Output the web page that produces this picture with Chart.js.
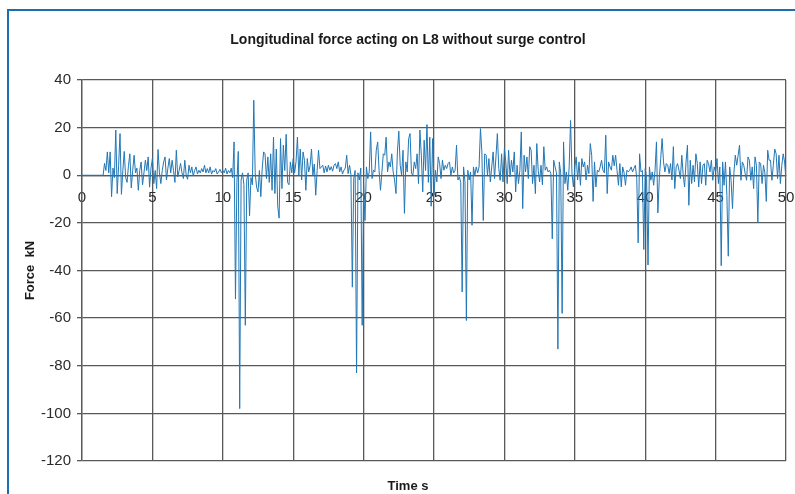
<!DOCTYPE html>
<html>
<head>
<meta charset="utf-8">
<script src="https://cdn.jsdelivr.net/npm/chart.js@4/dist/chart.umd.min.js"></script>
<style>
  html, body { margin: 0; padding: 0; background: #ffffff; }
  #wrap { width: 795px; height: 494px; position: relative; }
</style>
</head>
<body>
<div id="wrap"><canvas id="c" width="795" height="494"></canvas></div>
<script>
const chartTitle = 'Longitudinal force acting on L8 without surge control';
const xTitle = 'Time s';
const yTitle = 'Force  kN';

// axis ranges and tick spacing
const timeRange = [0, 50];
const timeTickStep = 5;
const forceRange = [-120, 40];
const forceTickStep = 20;

// sampling interval of the force record, seconds
const timeStep = 0.1;

// longitudinal force on L8, kN, one row per second (10 samples each)
const force = [
  0, 0, 0, 0, 0, 0, 0, 0, 0, 0,
  0, 0, 0, 0, 0, 0, 5, 2, 9.8, 1,
  9.8, -9, 3, -1, 19, -7.7, 4, 17.5, -8, 2,
  10, -1, -3, 4, 9, -5.3, 2, 8.4, 1, 3,
  -6.3, 2, 5.6, -4, 1, 6.3, 2, 7.7, -5, 3,
  7, -3.5, 2, -5.6, 10.8, 1, -3.5, 2, 5.6, 7.7,
  -2, 3, 7, 1, 6.3, 2, -3, 10.5, -0.7, 2,
  5, 1, -1.4, 6.3, 0, -1.7, 4.2, 1, 3.5, -0.3,
  2, 3.5, 0.5, 2.1, 1, 2.8, 1.4, 4.2, 1, 2.8,
  1, 3.5, 0.5, 2, 1.4, 2.8, 0.5, 1.4, 2.5, 1,
  2, 1, 3, 0.5, 2, 1, 3, -1, 14, -52,
  -3, 10, -98, -2, 1, -4, -63, -2, 1, -17,
  -1, -4, 31.5, 1, -5, -7, 2, -9, 3, 9.8,
  9, -1.4, 7.7, -3, 9, -6.3, 16, -7.7, 11, -13,
  -18, 15.4, -5.6, 12.6, 2, 17.2, -3, -4, 5.6, 1,
  7, 1, 5.6, 16, 0, 11, -2, 9.8, 6.3, -6.3,
  7, 1.4, 4, 11, 0, 4.7, -8.4, 2, 10.5, 2.8,
  3.5, 4.2, 1, 3.9, 1.4, 4.2, 2.1, 3.6, 1.7, 4.2,
  4.9, 2.8, 5.6, 1.4, 3.5, 0.5, 2.1, 3, 8.4, 0.7,
  4.2, 0.3, -47, -1.4, 2, -83, 1, -2, 3, -63,
  -4, -19, 3.5, -1.4, 1.4, 18.2, -1.4, 2.1, 1.4, 10.5,
  14, 2, -6.3, 1.4, 9, 8.4, 16, 1.4, 5.6, 3.5,
  9, 1.4, -2, -7.7, 9.8, 18.5, 4.2, 0, 10.5, -16,
  5.6, 1.4, 15.4, 17.5, 0.7, 0, 5.6, 2.8, 9, -3.5,
  19, 8.4, -7, 14.7, 2, 21.3, -3, 16, -13, 15.4,
  -8.4, 2.1, -2.8, 7.7, 4.9, -1.4, 6.3, 2.1, 4.2, 2.8,
  4.9, 5.6, 0, 3.5, 1, 2.1, 12.6, -2, -0.7, -3,
  -49, 3.5, -2.8, -61, 2.1, -2, 1.4, -21, 3.5, 0,
  3.5, 1, 3.5, 19.6, 9.8, -19, 9, 8.4, 0, 7,
  -2.8, 3.5, 9.8, -1.4, 7.7, 17.5, 2.8, -2.1, 9, -2.8,
  11.2, 5.6, -3.5, 10.5, -0.7, 6.3, 1.4, 9.8, -7, 4.2,
  -3.5, 2.1, 18.2, -14, 8.4, 1.4, 7.7, -1.4, 12, 10.5,
  -3.5, 4.2, -7.7, 13.3, 2.1, -2.8, 4.2, -4, 12, 2.1,
  3.5, 1.4, 2.1, 0.7, -26.7, 6.3, 3.5, 1, -73, 5.6,
  1, -58, 14, -3.5, 1.4, -6.3, 3.5, 23, 0.7, -4.9,
  3.5, 7.7, -2, 5.6, -4.2, 7, 3.5, 5.6, -2, 4.2,
  0.7, 13.3, 8.4, -11, 5.6, -4.9, 2.1, 1.4, 3.5, 6.3,
  2.1, 1, 16.8, -7.7, 5.6, 3.5, 2.1, 8.4, 4, 8.4,
  2, -4.2, 4.9, -4.9, 3.5, 1, -4.2, 2.1, 1.4, 2.1,
  3.5, 1.4, 2.8, 4.2, -1.4, -28.4, 9, 1.4, 2, -31.2,
  2.8, -1.4, -37.7, 3.5, -2.1, 1.4, -4.2, 2.1, 14, -15.8,
  -1.4, 7, 15.4, 5.6, 1.4, 4.9, 4.2, 0.7, 4.9, -2,
  12, -5.6, 3.5, 4.9, 2.1, -1.4, 8.4, 0, -4.9, 5.6,
  12.6, -12.6, 6.3, -3.5, 4.2, -2.8, 9, 4.9, -4.9, 5.6,
  -3.5, 4.2, 4.9, -4.2, 6.3, 4.9, 1.4, 6.3, -2.1, 3.5,
  1.4, 7, -3.5, 3.5, -38, 5.6, -4.2, 5.6, -8.4, -34,
  3.5, -2.1, -14, 1, 8.4, 4.2, 8.4, 12.6, -2.1, 5.6,
  4.2, 0.7, -2.1, 7.7, 6.3, -2.1, 3.5, -5.6, 7.7, 4.2,
  -20, 5.6, 4.9, -3.5, 4.2, 1, -11, 10.5, 6.3, 6.3,
  -2.1, 4.2, 11, 9, -1.4, 8.4, -3.5, 4, 9, 5.6,
  -2
];

const points = force.map((v, i) => ({ x: +(i * timeStep).toFixed(2), y: v }));

const GRID = '#595959';
const TEXT = '#2b2b2b';
const tickFont = { family: "'Liberation Sans', Arial, sans-serif", size: 15 };
const titleFont = "bold 14px 'Liberation Sans', Arial, sans-serif";
const axisTitleFont = { family: "'Liberation Sans', Arial, sans-serif", size: 13, weight: 'bold' };

// blue frame around the figure plus the chart and time-axis captions
const decorations = {
  id: 'decorations',
  beforeDraw(chart) {
    const ctx = chart.ctx;
    ctx.save();
    ctx.fillStyle = '#ffffff';
    ctx.fillRect(0, 0, chart.width, chart.height);
    ctx.fillStyle = '#1d6db5';
    ctx.fillRect(7, 9, 2, chart.height - 9);
    ctx.fillRect(7, 9, chart.width - 7, 2);
    ctx.restore();
  },
  afterDraw(chart) {
    const ctx = chart.ctx;
    ctx.save();
    ctx.fillStyle = '#1a1a1a';
    ctx.textAlign = 'center';
    ctx.textBaseline = 'middle';
    ctx.font = titleFont;
    ctx.fillText(chartTitle, 408, 40);
    ctx.font = "bold 13px 'Liberation Sans', Arial, sans-serif";
    ctx.fillText(xTitle, 408, 486);
    ctx.restore();
  }
};

new Chart(document.getElementById('c'), {
  type: 'line',
  data: {
    datasets: [{
      data: points,
      borderColor: '#2277b6',
      borderWidth: 1,
      pointRadius: 0,
      tension: 0,
      fill: false
    }]
  },
  options: {
    responsive: false,
    animation: false,
    devicePixelRatio: 1,
    layout: { padding: { top: 80, bottom: 33, left: 16, right: 9 } },
    plugins: {
      legend: { display: false },
      tooltip: { enabled: false },
      title: { display: false }
    },
    scales: {
      x: {
        type: 'linear',
        min: timeRange[0],
        max: timeRange[1],
        position: { y: 0 },
        ticks: { stepSize: timeTickStep, padding: 14, maxRotation: 0, color: TEXT, font: tickFont },
        grid: { color: GRID, lineWidth: 1.3, drawTicks: false },
        border: { color: GRID, width: 1.3 },
        afterFit(scale) { scale.paddingLeft = 0; scale.paddingRight = 0; scale.height = 0; }
      },
      y: {
        type: 'linear',
        min: forceRange[0],
        max: forceRange[1],
        ticks: { stepSize: forceTickStep, padding: 6, color: TEXT, font: tickFont },
        grid: { color: GRID, lineWidth: 1.3, tickLength: 5 },
        border: { color: GRID, width: 1.3 },
        title: { display: true, text: yTitle, color: '#1a1a1a', font: axisTitleFont, padding: { top: 7, bottom: 0 } },
        afterFit(scale) { scale.width = 66; }
      }
    }
  },
  plugins: [decorations]
});
</script>
</body>
</html>
